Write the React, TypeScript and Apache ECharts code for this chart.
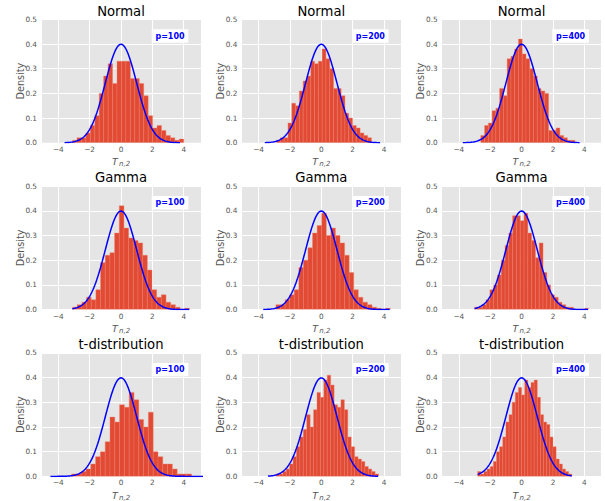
import React, { useEffect, useRef } from 'react';
import * as echarts from 'echarts';

const rowTitles = ['Normal', 'Gamma', 't-distribution'];
const pLabels = ['p=100', 'p=200', 'p=400'];
const yTickDigits = 1;

// Histogram bins: first edge, bin width, bar heights (density)
const binStarts = [-3.09, -2.85, -2.6, -3.09, -2.89, -2.99, -3.15, -2.89, -2.8];
const binWidths = [0.2836, 0.242, 0.24, 0.298, 0.2916, 0.242, 0.306, 0.218, 0.2];

const normal100 = [0.01, 0.02, 0.02, 0.04, 0.07, 0.11, 0.2, 0.27, 0.32, 0.24, 0.33, 0.33, 0.33, 0.26, 0.26, 0.24, 0.19, 0.11, 0.06, 0.07, 0.05, 0.03, 0.02, 0.01, 0.015];
const normal200 = [0.01, 0.02, 0.02, 0.08, 0.16, 0.15, 0.21, 0.25, 0.27, 0.33, 0.32, 0.33, 0.38, 0.34, 0.3, 0.22, 0.22, 0.19, 0.12, 0.1, 0.07, 0.06, 0.04, 0.03, 0.02];
const normal400 = [0.03, 0.07, 0.08, 0.13, 0.14, 0.22, 0.19, 0.34, 0.35, 0.38, 0.42, 0.36, 0.34, 0.3, 0.27, 0.22, 0.21, 0.2, 0.05, 0.05, 0.06, 0.03, 0.02, 0.01, 0.01];
const gamma100 = [0.01, 0.02, 0.03, 0.05, 0.04, 0.08, 0.19, 0.22, 0.23, 0.31, 0.42, 0.33, 0.29, 0.28, 0.27, 0.22, 0.16, 0.08, 0.05, 0.06, 0.03, 0.02, 0.01, 0.0, 0.005];
const gamma200 = [0.02, 0.02, 0.04, 0.06, 0.08, 0.17, 0.2, 0.25, 0.31, 0.34, 0.39, 0.3, 0.33, 0.3, 0.27, 0.22, 0.15, 0.08, 0.05, 0.03, 0.02, 0.01, 0.005, 0.0, 0.005];
const gamma400 = [0.01, 0.01, 0.02, 0.04, 0.08, 0.1, 0.14, 0.2, 0.26, 0.31, 0.38, 0.38, 0.36, 0.39, 0.31, 0.28, 0.21, 0.27, 0.15, 0.1, 0.06, 0.05, 0.03, 0.02, 0.01, 0.01, 0.0, 0.0, 0.0, 0.005];
const t100 = [0.01, 0.01, 0.02, 0.03, 0.05, 0.08, 0.1, 0.14, 0.24, 0.22, 0.29, 0.28, 0.34, 0.31, 0.23, 0.2, 0.26, 0.1, 0.08, 0.05, 0.05, 0.03, 0.01, 0.01, 0.01];
const t200 = [0.01, 0.01, 0.02, 0.03, 0.05, 0.08, 0.12, 0.16, 0.19, 0.25, 0.2, 0.27, 0.34, 0.32, 0.39, 0.41, 0.37, 0.29, 0.28, 0.31, 0.27, 0.16, 0.12, 0.08, 0.07, 0.06, 0.04, 0.03, 0.02, 0.01];
const t400 = [0.02, 0.01, 0.02, 0.03, 0.04, 0.06, 0.1, 0.12, 0.16, 0.22, 0.25, 0.3, 0.34, 0.36, 0.33, 0.39, 0.36, 0.38, 0.39, 0.32, 0.25, 0.22, 0.21, 0.16, 0.12, 0.07, 0.05, 0.03, 0.02, 0.01];

const panelHeights = [normal100, normal200, normal400, gamma100, gamma200, gamma400, t100, t200, t400];

// x-extent over which the N(0,1) reference density is drawn in each panel
const curveMins = [-3.6, -3.6, -3.75, -3.1, -3.7, -3.0, -4.5, -3.4, -2.8];
const curveMaxs = [3.8, 3.75, 3.7, 4.35, 4.4, 4.27, 5.4, 3.65, 3.2];

const FONT = 'DejaVu Sans';
const GRID_W = 160;
const GRID_H = 123.5;
const colLeft = (c: number) => 41 + 200.3 * c;
const rowTop = (r: number) => 19.3 + 166.8 * r;

function stdNormalPdf(x: number) {
  return Math.exp(-0.5 * x * x) / Math.sqrt(2 * Math.PI);
}

function buildOption() {
  const grid: any[] = [];
  const xAxis: any[] = [];
  const yAxis: any[] = [];
  const series: any[] = [];
  const graphic: any[] = [];

  for (let i = 0; i < 9; i++) {
    const r = Math.floor(i / 3);
    const c = i % 3;
    const L = colLeft(c);
    const T = rowTop(r);
    grid.push({
      left: L, top: T, width: GRID_W, height: GRID_H,
      show: true, backgroundColor: '#E5E5E5', borderWidth: 0, containLabel: false,
    });
    xAxis.push({
      type: 'value', gridIndex: i, min: -5.1, max: 5.1, splitNumber: 5,
      axisLine: { show: false }, axisTick: { show: false },
      splitLine: { show: true, lineStyle: { color: '#FFFFFF', width: 1 } },
      axisLabel: {
        showMinLabel: false, showMaxLabel: false, margin: 3,
        fontSize: 7.3, color: '#555555', fontFamily: FONT,
        formatter: (v: number) => (v < 0 ? '\u2212' + Math.abs(v) : String(v)),
      },
    });
    yAxis.push({
      type: 'value', gridIndex: i, min: 0, max: 0.5, interval: 0.1,
      axisLine: { show: false }, axisTick: { show: false },
      splitLine: { show: true, lineStyle: { color: '#FFFFFF', width: 1 } },
      axisLabel: {
        margin: 4, fontSize: 7.3, color: '#555555', fontFamily: FONT,
        formatter: (v: number) => v.toFixed(yTickDigits),
      },
    });

    const hs = panelHeights[i];
    const start = binStarts[i];
    const w = binWidths[i];
    const bars = hs.map((h, k) => [start + k * w, start + (k + 1) * w, h]);
    series.push({
      type: 'custom', xAxisIndex: i, yAxisIndex: i, clip: true,
      encode: { x: [0, 1], y: 2 },
      data: bars,
      renderItem: (_p: any, api: any) => {
        const a = api.coord([api.value(0), api.value(2)]);
        const b = api.coord([api.value(1), 0]);
        return {
          type: 'rect',
          shape: { x: a[0], y: a[1], width: b[0] - a[0], height: b[1] - a[1] },
          style: { fill: '#E24A33', stroke: '#EA7F6C', lineWidth: 0.4 },
        };
      },
      z: 2,
    });

    const n = 200;
    const cMin = curveMins[i];
    const cMax = curveMaxs[i];
    const curve: number[][] = [];
    for (let k = 0; k <= n; k++) {
      const x = cMin + ((cMax - cMin) * k) / n;
      curve.push([x, stdNormalPdf(x)]);
    }
    series.push({
      type: 'line', xAxisIndex: i, yAxisIndex: i, data: curve, showSymbol: false,
      clip: true, lineStyle: { color: '#0000FF', width: 1.5 }, z: 3,
    });

    // title
    graphic.push({
      type: 'text', x: L + GRID_W / 2, y: T - 8.3,
      style: { text: rowTitles[r], fontSize: 13.2, fontFamily: FONT, fontWeight: 'normal', fill: '#000000', textAlign: 'center', textVerticalAlign: 'middle' },
    });
    // p label box
    graphic.push({
      type: 'rect', shape: { x: L + 110.7, y: T + 10, width: 36.6, height: 13.4 },
      style: { fill: '#FFFFFF' }, z: 10,
    });
    graphic.push({
      type: 'text', x: L + 110.7 + 18.3, y: T + 10 + 6.7, z: 11,
      style: { text: pLabels[c], fontSize: 8, fontWeight: 'bold', fontFamily: FONT, fill: '#0000FF', textAlign: 'center', textVerticalAlign: 'middle' },
    });
    // y label
    graphic.push({
      type: 'text', x: L - 21, y: T + GRID_H / 2, rotation: Math.PI / 2,
      style: { text: 'Density', fontSize: 9.7, fontWeight: 'normal', fontFamily: FONT, fill: '#555555', textAlign: 'center', textVerticalAlign: 'middle' },
    });
    // x label T_{n,2}
    graphic.push({
      type: 'text', x: L + 71, y: T + GRID_H + 18.8,
      style: { text: 'T', fontSize: 9.5, fontStyle: 'italic', fontWeight: 'normal', fontFamily: FONT, fill: '#555555', textAlign: 'left', textVerticalAlign: 'middle' },
    });
    graphic.push({
      type: 'text', x: L + 78, y: T + GRID_H + 21.5,
      style: { text: 'n,2', fontSize: 7, fontStyle: 'italic', fontWeight: 'normal', fontFamily: FONT, fill: '#555555', textAlign: 'left', textVerticalAlign: 'middle' },
    });
  }

  return { animation: false, backgroundColor: '#FFFFFF', grid, xAxis, yAxis, series, graphic };
}

export default function App() {
  const ref = useRef<HTMLDivElement>(null);
  useEffect(() => {
    if (!ref.current) return;
    const chart = echarts.init(ref.current, undefined, { renderer: 'svg' });
    chart.setOption(buildOption() as any);
    return () => chart.dispose();
  }, []);
  return <div ref={ref} style={{ position: 'fixed', left: 0, top: 0, width: 605, height: 501 }} />;
}
